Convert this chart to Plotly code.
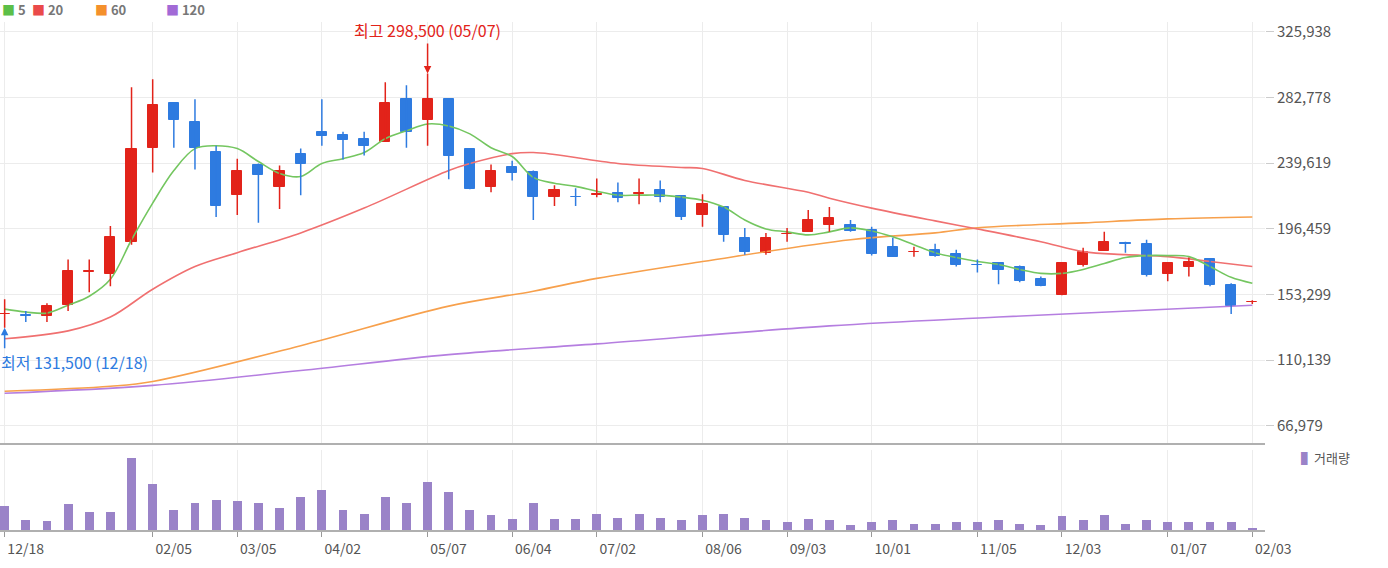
import plotly.graph_objects as go
from plotly.subplots import make_subplots

# weekly candles, index 0 = 12/18
OPEN = [140500, 139800, 139200, 146300, 168200, 166500, 188000, 249800, 279100, 266700,
        247200, 218600, 238100, 223800, 245900, 260200, 258300, 255700, 253700, 281700,
        268000, 281700, 249200, 223800, 237400, 233500, 217300, 217600, 219000, 219900,
        219600, 221800, 217900, 205600, 210800, 190600, 180800, 193000, 194500, 199100,
        199100, 195800, 184700, 181200, 182800, 180200, 173000, 174300, 171700, 163300,
        152900, 172400, 182100, 187000, 186700, 166500, 171700, 176900, 159400, 148100]
HIGH = [150200, 142400, 147600, 176300, 176300, 198400, 289500, 294700, 279100, 281700,
        251100, 242600, 239400, 238100, 249200, 281700, 260200, 260200, 292800, 290800,
        298500, 281700, 249200, 238700, 241300, 234800, 225100, 223100, 229600, 227000,
        229600, 228300, 217900, 219200, 210800, 197100, 193800, 197100, 208800, 210800,
        202300, 197800, 190600, 184700, 186700, 182800, 176300, 174300, 172400, 165200,
        173700, 184100, 194500, 188000, 189300, 173700, 177600, 176900, 160700, 149600]
LOW = [131500, 135300, 135300, 142400, 154800, 158700, 186000, 233500, 249800, 235500,
       204300, 205600, 200400, 209500, 218600, 251100, 242000, 244600, 253700, 249800,
       251100, 229000, 222500, 220500, 228300, 202300, 211400, 211400, 217300, 214000,
       212700, 214000, 202300, 197800, 188000, 179500, 179500, 188000, 194500, 194500,
       194500, 178900, 178200, 178200, 178200, 171700, 167800, 160000, 161300, 158700,
       152900, 171700, 182100, 180800, 165200, 162000, 165200, 158700, 140500, 147000]
CLOSE = [140800, 139500, 145700, 168500, 168500, 191200, 249200, 277800, 268000, 249800,
         211400, 234800, 231600, 234800, 239400, 257600, 255000, 251100, 279100, 260200,
         281700, 244600, 222500, 234800, 232900, 217300, 221800, 217300, 219200, 216600,
         219900, 217300, 204300, 212700, 192500, 181500, 190600, 193200, 202300, 203600,
         195100, 180200, 178200, 181500, 178900, 172400, 172700, 169100, 162000, 158700,
         173700, 181500, 188000, 186700, 165900, 173700, 175000, 159400, 145700, 148300]
VOLUME = [24, 10, 9, 26, 18, 18, 72, 46, 20, 27, 30, 29, 27, 22, 33, 40, 20, 16, 33, 27,
          48, 38, 20, 15, 11, 27, 11, 11, 16, 12, 16, 12, 10, 15, 16, 12, 10, 8, 11, 10,
          5, 8, 10, 6, 6, 8, 8, 10, 6, 5, 14, 10, 15, 6, 10, 8, 8, 8, 8, 2]

MA5 = [143700, 141800, 141100, 146300, 152200, 163300, 189300, 213400, 234800, 249200,
       251100, 249200, 240700, 232900, 230900, 239400, 242600, 246600, 255700, 260900,
       265400, 264100, 258900, 249800, 244000, 230300, 226400, 224400, 221200, 218600,
       218600, 218600, 217300, 215300, 210800, 202300, 196400, 194500, 192500, 194500,
       197100, 195100, 191200, 186000, 180800, 177600, 175000, 173000, 169800, 167200,
       167200, 169800, 173700, 177600, 178900, 178900, 178200, 171700, 164600, 160700]
MA20_WK = [0, 3, 5, 7, 9, 11, 14, 17, 21, 22, 24, 25, 26, 29, 32, 33, 35, 38, 39, 41,
           44, 46, 49, 51, 53, 55, 57, 59]
MA20 = [124200, 129400, 138500, 156800, 171700, 180800, 193800, 210100, 234800, 239400,
        245900, 246600, 245300, 239400, 236800, 236100, 228300, 220500, 216600, 210100,
        201700, 196400, 188000, 181500, 179500, 178200, 175000, 171700]
MA60_WK = [0, 5, 7, 14, 21, 25, 28, 33, 40, 44, 46, 51, 55, 59]
MA60 = [89700, 93000, 96200, 119700, 145700, 155500, 163900, 175000, 189300, 193800,
        197100, 200400, 203000, 204300]
MA120_WK = [0, 7, 14, 21, 28, 39, 47, 59]
MA120 = [88400, 93600, 103400, 113800, 120900, 132700, 138500, 146300]

TICK_WK = [0, 7, 11, 15, 20, 24, 28, 33, 37, 41, 46, 50, 55, 59]
TICK_LBL = ["12/18", "02/05", "03/05", "04/02", "05/07", "06/04", "07/02", "08/06",
            "09/03", "10/01", "11/05", "12/03", "01/07", "02/03"]
PRICE_TICKS = [66979, 110139, 153299, 196459, 239619, 282778, 325938]

weeks = list(range(len(OPEN)))
RED, BLUE = "#e2231a", "#2e7be0"
GRID = "#ececec"

fig = make_subplots(rows=2, cols=1, shared_xaxes=True, vertical_spacing=0.014,
                    row_heights=[0.84, 0.16])

for wk, ma, col in [(MA120_WK, MA120, "#b57ee0"), (MA60_WK, MA60, "#f7a04c"),
                    (MA20_WK, MA20, "#f07070"), (weeks, MA5, "#74c660")]:
    fig.add_trace(go.Scatter(x=wk, y=ma, mode="lines", line=dict(color=col, width=1.6, shape="spline"),
                             hoverinfo="skip", showlegend=False), 1, 1)

# candles drawn as wick segments + body bars
for up, col in [(True, RED), (False, BLUE)]:
    idx = [i for i in weeks if (CLOSE[i] >= OPEN[i]) == up]
    wx, wy = [], []
    for i in idx:
        wx += [i, i, None]
        wy += [LOW[i], HIGH[i], None]
    fig.add_trace(go.Scatter(x=wx, y=wy, mode="lines", line=dict(color=col, width=1.5),
                             hoverinfo="skip", showlegend=False), 1, 1)
    fig.add_trace(go.Bar(x=idx, y=[abs(CLOSE[i] - OPEN[i]) for i in idx],
                         base=[min(OPEN[i], CLOSE[i]) for i in idx], width=0.48,
                         marker=dict(color=col, line=dict(color=col, width=1)),
                         hoverinfo="skip", showlegend=False), 1, 1)

fig.add_trace(go.Bar(x=weeks, y=VOLUME, marker=dict(color="#9a83c8", line=dict(width=0)),
                     width=0.42, showlegend=False), 2, 1)

fig.update_xaxes(tickvals=TICK_WK, ticktext=TICK_LBL, range=[-0.22, 59.6], automargin=False,
                 showgrid=True, gridcolor=GRID, zeroline=False,
                 showline=True, linecolor="#b0b0b0", linewidth=2, mirror=False)
fig.update_xaxes(showticklabels=False, row=1, col=1)
fig.update_xaxes(row=2, col=1, ticks="outside", ticklen=5, tickcolor="#999",
                 ticklabelshift=21, tickfont=dict(size=14, color="#555"))
fig.update_yaxes(row=1, col=1, side="right", range=[55900, 332400], tickvals=PRICE_TICKS,
                 tickformat=",d", showgrid=True, gridcolor=GRID, zeroline=False, automargin=False,
                 ticks="outside", ticklen=8, tickcolor="#ccc",
                 tickfont=dict(size=15, color="#555"))
fig.update_yaxes(row=2, col=1, range=[0, 80], showticklabels=False, showgrid=False,
                 zeroline=False, automargin=False)

# legend row
legend = [("5", "#5cbf48"), ("20", "#ea4a4a"), ("60", "#f4902c"), ("120", "#a26ad6")]
xpos = [0.0, 0.0237, 0.0735, 0.130]
for (lbl, col), xp in zip(legend, xpos):
    fig.add_annotation(xref="paper", yref="paper", x=xp, y=1, yshift=13, xanchor="left",
                       yanchor="middle", showarrow=False,
                       text=f"<span style='color:{col}'>■</span> <b>{lbl}</b>",
                       font=dict(size=13, color="#777"))
fig.add_annotation(xref="paper", yref="paper", x=1.027, y=0.12, xanchor="left", showarrow=False,
                   text="<span style='color:#9a83c8'>▌</span>거래량", font=dict(size=13, color="#555"))

# high / low markers
fig.add_annotation(x=20, y=HIGH[20], xref="x", yref="y", text="최고 298,500 (05/07)",
                   showarrow=True, arrowhead=2, arrowsize=1, arrowwidth=1.5, arrowcolor=RED,
                   ax=0, ay=-30, yanchor="bottom", font=dict(size=16, color=RED))
fig.add_annotation(x=0, y=LOW[0], xref="x", yref="y", text="", showarrow=True, arrowhead=2,
                   arrowwidth=1.5, arrowcolor=BLUE, ax=0, ay=22)
fig.add_annotation(x=0, y=LOW[0], xref="x", yref="y", text="최저 131,500 (12/18)", showarrow=False,
                   xanchor="left", yanchor="top", xshift=-6, yshift=-20,
                   font=dict(size=16, color=BLUE))

fig.update_layout(width=1388, height=568,
                  margin=dict(l=0, r=123, t=22, b=38, autoexpand=False),
                  plot_bgcolor="white", paper_bgcolor="white", bargap=0, barmode="overlay",
                  font=dict(family="Noto Sans CJK KR, Noto Sans, sans-serif"))

fig.write_html("out.html", config={"displayModeBar": False},
               post_script="document.body.style.margin='0';")
